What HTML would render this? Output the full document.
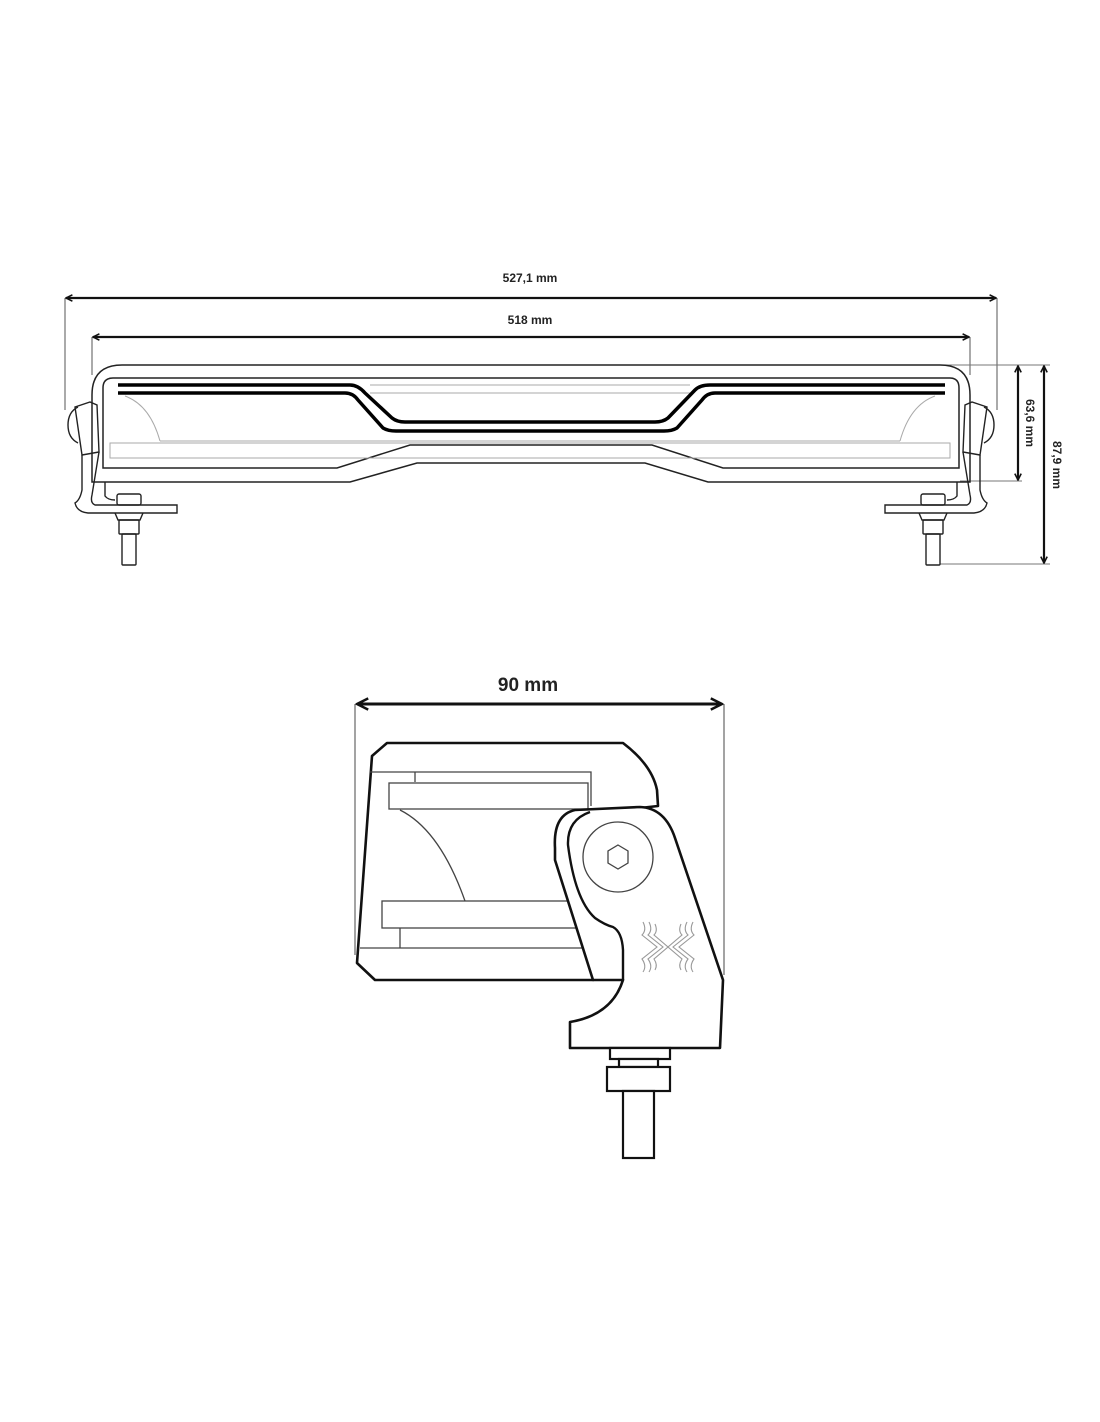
<!DOCTYPE html>
<html><head><meta charset="utf-8"><style>
html,body{margin:0;padding:0;background:#fff;}
svg{display:block}
.t{font-family:"Liberation Sans Narrow","Liberation Sans",sans-serif;font-weight:bold;fill:#222}
</style></head><body>
<svg width="1100" height="1422" viewBox="0 0 1100 1422" xmlns="http://www.w3.org/2000/svg">
<defs>
<marker id="a" viewBox="0 0 10 10" refX="9" refY="5" markerWidth="8" markerHeight="8" orient="auto-start-reverse" markerUnits="userSpaceOnUse">
<path d="M1,1 L9,5 L1,9" fill="none" stroke="#111" stroke-width="2"/></marker>
<marker id="b" viewBox="0 0 10 10" refX="9" refY="5" markerWidth="14" markerHeight="14" orient="auto-start-reverse" markerUnits="userSpaceOnUse">
<path d="M1,1 L9,5 L1,9" fill="none" stroke="#111" stroke-width="1.8"/></marker>
</defs>
<g fill="none" stroke="#222" stroke-width="1.2">
<line x1="65" y1="298" x2="65" y2="410" stroke="#555" stroke-width="1"/>
<line x1="997" y1="298" x2="997" y2="410" stroke="#555" stroke-width="1"/>
<line x1="92" y1="337" x2="92" y2="375" stroke="#555" stroke-width="1"/>
<line x1="970" y1="337" x2="970" y2="375" stroke="#555" stroke-width="1"/>
<line x1="930" y1="365" x2="1050" y2="365" stroke="#777" stroke-width="1"/>
<line x1="960" y1="481" x2="1022" y2="481" stroke="#777" stroke-width="1"/>
<line x1="940" y1="564" x2="1050" y2="564" stroke="#777" stroke-width="1"/>
</g>
<g stroke="#111" stroke-width="2.2" fill="none">
<line x1="66" y1="298" x2="996" y2="298" marker-start="url(#a)" marker-end="url(#a)"/>
<line x1="93" y1="337" x2="969" y2="337" marker-start="url(#a)" marker-end="url(#a)"/>
<line x1="1018" y1="366" x2="1018" y2="480" marker-start="url(#a)" marker-end="url(#a)"/>
<line x1="1044" y1="366" x2="1044" y2="563" marker-start="url(#a)" marker-end="url(#a)"/>
</g>
<text class="t" x="530" y="282" font-size="12" text-anchor="middle">527,1 mm</text>
<text class="t" x="530" y="324" font-size="12" text-anchor="middle">518 mm</text>
<text class="t" font-size="12" text-anchor="middle" transform="translate(1026,423) rotate(90)">63,6 mm</text>
<text class="t" font-size="12" text-anchor="middle" transform="translate(1053,465) rotate(90)">87,9 mm</text>

<g fill="none" stroke="#222" stroke-width="1.5">
<path d="M92,482 L92,395 Q92,365 122,365 L940,365 Q970,365 970,395 L970,482 L708,482 L645,463 L417,463 L350,482 Z"/>
<path d="M103,468 L103,388 Q103,378 113,378 L950,378 Q959,378 959,388 L959,468 L723,468 L652,445 L410,445 L337,468 Z"/>
</g>
<g fill="none" stroke="#aaa" stroke-width="1">
<rect x="110" y="443" width="840" height="15"/>
<line x1="370" y1="385" x2="690" y2="385"/>
<line x1="370" y1="393" x2="690" y2="393"/>
<line x1="160" y1="441" x2="900" y2="441"/>
<path d="M125,396 Q150,405 160,441"/>
<path d="M935,396 Q910,405 900,441"/>
</g>
<g fill="none" stroke="#000" stroke-width="3.5" stroke-linejoin="round">
<path d="M118,385 L350,385 Q358,385 365,393 L392,418 Q397,422 405,422 L655,422 Q663,422 668,418 L695,390 Q700,385 710,385 L945,385"/>
<path d="M118,393 L345,393 Q353,393 358,400 L383,428 Q388,431 396,431 L664,431 Q672,431 677,428 L702,400 Q707,393 715,393 L945,393"/>
</g>
<g fill="none" stroke="#222" stroke-width="1.4">
<path d="M78,407 Q68,412 68,425 Q68,438 78,443"/>
<path d="M75,407 L90,402 L97,405 L99,452 L82,455 Z"/>
<path d="M82,455 L82,490 Q80,500 75,503 Q77,512 88,513 L177,513 L177,505 L95,505 Q90,503 92,495 L99,452"/>
<path d="M105,482 L105,496 Q108,500 115,500"/>
<rect x="117" y="494" width="24" height="11" rx="2"/>
<path d="M115,513 L118,520 L140,520 L143,513"/>
<rect x="119" y="520" width="20" height="14" rx="1"/>
<rect x="122" y="534" width="14" height="31" rx="1"/>
</g>
<g fill="none" stroke="#222" stroke-width="1.4" transform="translate(1062,0) scale(-1,1)">
<path d="M78,407 Q68,412 68,425 Q68,438 78,443"/>
<path d="M75,407 L90,402 L97,405 L99,452 L82,455 Z"/>
<path d="M82,455 L82,490 Q80,500 75,503 Q77,512 88,513 L177,513 L177,505 L95,505 Q90,503 92,495 L99,452"/>
<path d="M105,482 L105,496 Q108,500 115,500"/>
<rect x="117" y="494" width="24" height="11" rx="2"/>
<path d="M115,513 L118,520 L140,520 L143,513"/>
<rect x="119" y="520" width="20" height="14" rx="1"/>
<rect x="122" y="534" width="14" height="31" rx="1"/>
</g>

<g fill="none" stroke="#666" stroke-width="1.2">
<line x1="355" y1="704" x2="355" y2="955"/>
<line x1="724" y1="704" x2="724" y2="975"/>
</g>
<line x1="357" y1="704" x2="722" y2="704" stroke="#111" stroke-width="3" marker-start="url(#b)" marker-end="url(#b)"/>
<text class="t" x="528" y="691" font-size="19" text-anchor="middle">90 mm</text>

<g fill="none" stroke="#111" stroke-width="2.6" stroke-linejoin="round">
<path d="M372,756 L387,743 L623,743 Q652,765 657,790 L658,806 L640,808 L593,980 L375,980 L357,963 Z"/>
</g>
<g fill="none" stroke="#444" stroke-width="1.3">
<path d="M370,772 L591,772 L591,806"/>
<line x1="415" y1="772" x2="415" y2="782"/>
<rect x="389" y="783" width="199" height="26"/>
<path d="M400,810 Q440,830 465,901"/>
<rect x="382" y="901" width="200" height="27"/>
<path d="M400,928 L400,948"/>
<path d="M360,948 L582,948"/>
</g>
<path d="M555,848 Q553,815 575,810 L640,807 Q665,808 675,838 L723,980 L720,1048 L570,1048 L570,1022 Q612,1015 623,980 L593,980 L555,860 Z" fill="#fff" stroke="#111" stroke-width="2.6" stroke-linejoin="round"/>
<path d="M590,812 Q567,820 568,845 Q575,900 595,918 Q605,925 613,927 Q622,932 623,950 L623,980" fill="none" stroke="#111" stroke-width="2.4"/>
<circle cx="618" cy="857" r="35" fill="none" stroke="#444" stroke-width="1.3"/>
<polygon points="618,845 628,851 628,863 618,869 608,863 608,851" fill="none" stroke="#444" stroke-width="1.3"/>
<g fill="none" stroke="#999" stroke-width="1.1">
<path d="M643,922 Q647,930 642,935 L657,947 L642,959 Q647,966 643,972"/>
<path d="M649,922 Q653,930 648,935 L663,947 L648,959 Q653,966 649,972"/>
<path d="M655,924 Q658,931 654,935 L668,947 L654,959 Q658,965 655,970"/>
<path d="M693,922 Q689,930 694,935 L679,947 L694,959 Q689,966 693,972"/>
<path d="M687,922 Q683,930 688,935 L673,947 L688,959 Q683,966 687,972"/>
<path d="M681,924 Q678,931 682,935 L668,947 L682,959 Q678,965 681,970"/>
</g>
<g fill="#fff" stroke="#111" stroke-width="2.2">
<rect x="610" y="1048" width="60" height="11"/>
<rect x="619" y="1059" width="39" height="8"/>
<rect x="607" y="1067" width="63" height="24"/>
<rect x="623" y="1091" width="31" height="67"/>
</g>
</svg>
</body></html>
